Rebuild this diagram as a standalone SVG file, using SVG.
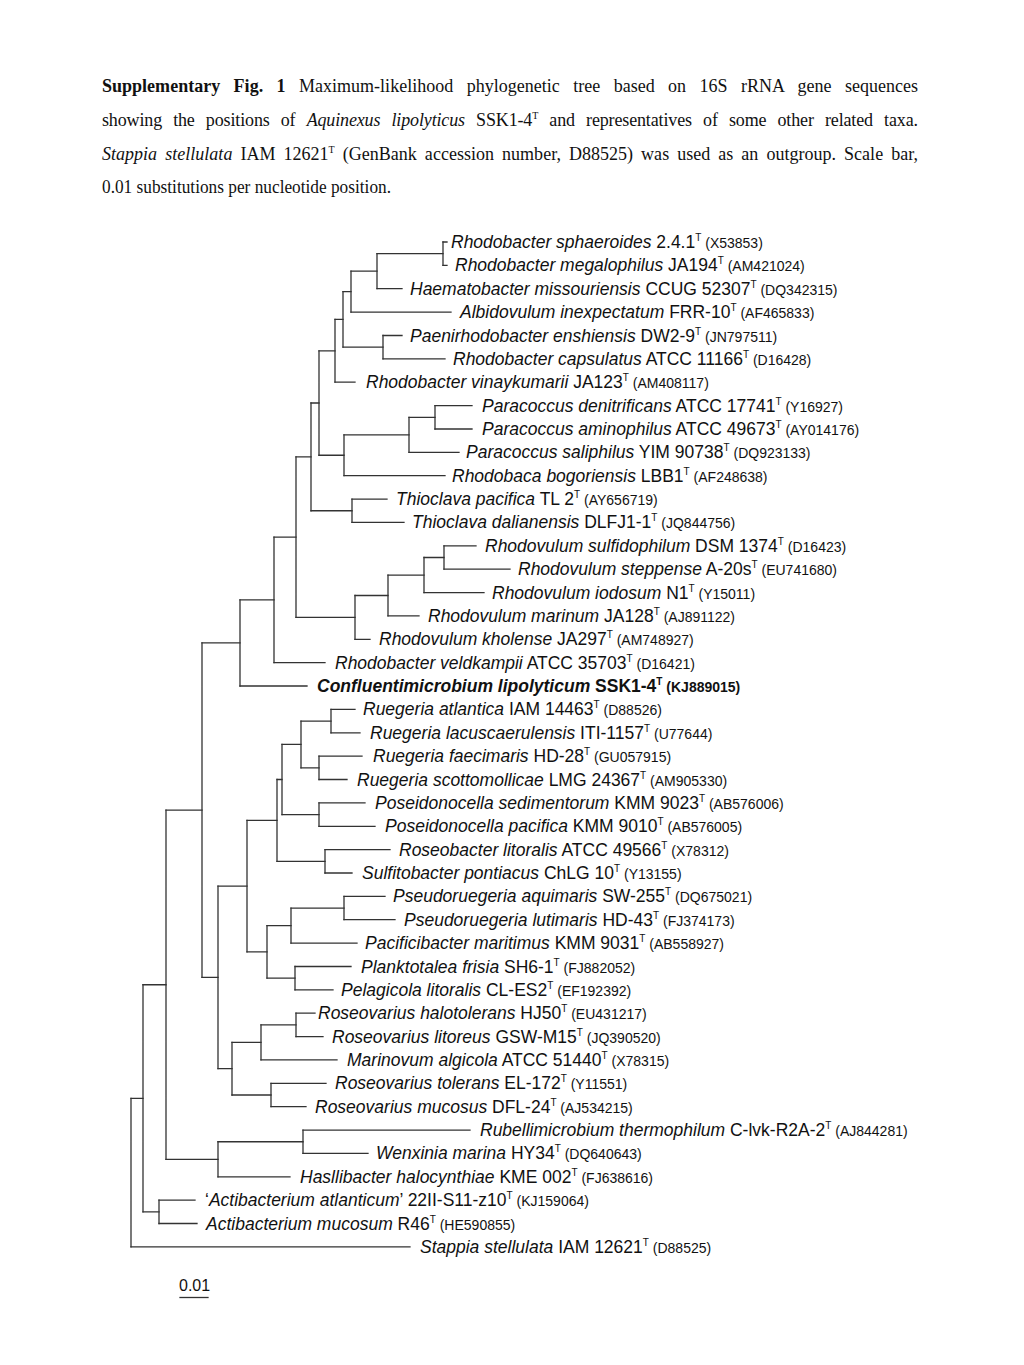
<svg xmlns="http://www.w3.org/2000/svg" width="1024" height="1365" viewBox="0 0 1024 1365">
<style>
.bg{fill:#fff}
.b{stroke:#333;stroke-width:1.3;fill:none;stroke-linecap:square}
.cap{font-family:"Liberation Serif","Times New Roman",serif;font-size:18px;fill:#111}
.lab{font-family:"Liberation Sans",Arial,sans-serif;font-size:17.5px;fill:#111}
.i{font-style:italic}
.acc{font-size:14px}
.sup{font-size:10px}
.bold{font-weight:bold}
</style>
<rect class="bg" x="0" y="0" width="1024" height="1365"/>
<g id="caption">
<text class="cap" x="102" y="92" style="word-spacing:8.9px" textLength="816" lengthAdjust="spacing"><tspan class="bold">Supplementary Fig. 1</tspan> Maximum-likelihood phylogenetic tree based on 16S rRNA gene sequences</text>
<text class="cap" x="102" y="126" style="word-spacing:6.8px" textLength="816" lengthAdjust="spacing">showing the positions of <tspan class="i">Aquinexus lipolyticus</tspan> SSK1-4<tspan class="sup" dy="-7">T</tspan><tspan dy="7"> and representatives of some other related taxa.</tspan></text>
<text class="cap" x="102" y="160" style="word-spacing:3.5px" textLength="816" lengthAdjust="spacing"><tspan class="i">Stappia stellulata</tspan> IAM 12621<tspan class="sup" dy="-7">T</tspan><tspan dy="7"> (GenBank accession number, D88525) was used as an outgroup. Scale bar,</tspan></text>
<text class="cap" x="102" y="193" textLength="289" lengthAdjust="spacingAndGlyphs">0.01 substitutions per nucleotide position.</text>
</g>
<g id="connectors">
<path class="b" d="M443 242V265.4 M377 253.7V288.7 M351 271.2V312.1 M383 335.5V358.9 M343 291.65V347.2 M335 319.4V382.2 M435 405.6V429 M409 417.3V452.3 M344 434.8V475.7 M319 350.8V455.25 M352 499.1V522.4 M311 403V510.75 M444 545.8V569.2 M424 557.5V592.6 M388 575.05V615.9 M355 595.5V639.3 M296 456.9V617.4 M274 537.15V662.7 M240 599.9V686 M331 709.4V732.8 M319 756.1V779.5 M301 721.1V767.8 M319 802.9V826.3 M282 744.45V814.6 M325 849.6V873 M277 779.5V861.3 M344 896.4V919.7 M291 908.05V943.1 M295 966.5V989.8 M267 925.6V978.15 M247 820.4V951.9 M296 1013.2V1036.6 M261 1024.9V1059.9 M271 1083.3V1106.7 M232 1042.4V1095 M218 886.15V1068.7 M202 642.95V977.4 M303 1130.1V1153.4 M218 1141.75V1176.8 M166 810.2V1159.3 M159 1200.2V1223.5 M143 984.75V1211.85 M131 1098.3V1246.9"/>
<path class="b" d="M377 253.7H443 M351 271.2H377 M343 291.65H351 M343 347.2H383 M335 319.4H343 M319 350.8H335 M409 417.3H435 M344 434.8H409 M319 455.25H344 M311 403H319 M311 510.75H352 M296 456.9H311 M424 557.5H444 M388 575.05H424 M355 595.5H388 M296 617.4H355 M274 537.15H296 M240 599.9H274 M202 642.95H240 M301 721.1H331 M301 767.8H319 M282 744.45H301 M282 814.6H319 M277 779.5H282 M277 861.3H325 M247 820.4H277 M291 908.05H344 M267 925.6H291 M267 978.15H295 M247 951.9H267 M218 886.15H247 M261 1024.9H296 M232 1042.4H261 M232 1095H271 M218 1068.7H232 M202 977.4H218 M166 810.2H202 M218 1141.75H303 M166 1159.3H218 M143 984.75H166 M143 1211.85H159 M131 1098.3H143"/>
<path class="b" d="M443 242H447 M443 265.4H447 M377 288.7H402 M351 312.1H451 M383 335.5H402 M383 358.9H445 M335 382.2H355 M435 405.6H472 M435 429H472 M409 452.3H459 M344 475.7H445 M352 499.1H387 M352 522.4H404 M444 545.8H476 M444 569.2H510 M424 592.6H484 M388 615.9H419 M355 639.3H370 M274 662.7H325 M240 686H307 M331 709.4H355 M331 732.8H360 M319 756.1H362 M319 779.5H347 M319 802.9H365 M319 826.3H375 M325 849.6H390 M325 873H352 M344 896.4H385 M344 919.7H395 M291 943.1H357 M295 966.5H351 M295 989.8H333 M296 1013.2H315 M296 1036.6H323 M261 1059.9H337 M271 1083.3H326 M271 1106.7H306 M303 1130.1H470 M303 1153.4H368 M218 1176.8H290 M159 1200.2H195 M159 1223.5H197 M131 1246.9H410"/>
</g>
<g id="leaf-1"><text class="lab" x="451" y="248"><tspan class="i">Rhodobacter sphaeroides</tspan> 2.4.1<tspan class="sup" dy="-7">T</tspan><tspan class="acc" dy="7"> (X53853)</tspan></text></g>
<g id="leaf-2"><text class="lab" x="455" y="271.4"><tspan class="i">Rhodobacter megalophilus</tspan> JA194<tspan class="sup" dy="-7">T</tspan><tspan class="acc" dy="7"> (AM421024)</tspan></text></g>
<g id="leaf-3"><text class="lab" x="410" y="294.7"><tspan class="i">Haematobacter missouriensis</tspan> CCUG 52307<tspan class="sup" dy="-7">T</tspan><tspan class="acc" dy="7"> (DQ342315)</tspan></text></g>
<g id="leaf-4"><text class="lab" x="460" y="318.1"><tspan class="i">Albidovulum inexpectatum</tspan> FRR-10<tspan class="sup" dy="-7">T</tspan><tspan class="acc" dy="7"> (AF465833)</tspan></text></g>
<g id="leaf-5"><text class="lab" x="410" y="341.5"><tspan class="i">Paenirhodobacter enshiensis</tspan> DW2-9<tspan class="sup" dy="-7">T</tspan><tspan class="acc" dy="7"> (JN797511)</tspan></text></g>
<g id="leaf-6"><text class="lab" x="453" y="364.9"><tspan class="i">Rhodobacter capsulatus</tspan> ATCC 11166<tspan class="sup" dy="-7">T</tspan><tspan class="acc" dy="7"> (D16428)</tspan></text></g>
<g id="leaf-7"><text class="lab" x="366" y="388.2"><tspan class="i">Rhodobacter vinaykumarii</tspan> JA123<tspan class="sup" dy="-7">T</tspan><tspan class="acc" dy="7"> (AM408117)</tspan></text></g>
<g id="leaf-8"><text class="lab" x="482" y="411.6"><tspan class="i">Paracoccus denitrificans</tspan> ATCC 17741<tspan class="sup" dy="-7">T</tspan><tspan class="acc" dy="7"> (Y16927)</tspan></text></g>
<g id="leaf-9"><text class="lab" x="482" y="435"><tspan class="i">Paracoccus aminophilus</tspan> ATCC 49673<tspan class="sup" dy="-7">T</tspan><tspan class="acc" dy="7"> (AY014176)</tspan></text></g>
<g id="leaf-10"><text class="lab" x="466" y="458.3"><tspan class="i">Paracoccus saliphilus</tspan> YIM 90738<tspan class="sup" dy="-7">T</tspan><tspan class="acc" dy="7"> (DQ923133)</tspan></text></g>
<g id="leaf-11"><text class="lab" x="452" y="481.7"><tspan class="i">Rhodobaca bogoriensis</tspan> LBB1<tspan class="sup" dy="-7">T</tspan><tspan class="acc" dy="7"> (AF248638)</tspan></text></g>
<g id="leaf-12"><text class="lab" x="396" y="505.1"><tspan class="i">Thioclava pacifica</tspan> TL 2<tspan class="sup" dy="-7">T</tspan><tspan class="acc" dy="7"> (AY656719)</tspan></text></g>
<g id="leaf-13"><text class="lab" x="412" y="528.4"><tspan class="i">Thioclava dalianensis</tspan> DLFJ1-1<tspan class="sup" dy="-7">T</tspan><tspan class="acc" dy="7"> (JQ844756)</tspan></text></g>
<g id="leaf-14"><text class="lab" x="485" y="551.8"><tspan class="i">Rhodovulum sulfidophilum</tspan> DSM 1374<tspan class="sup" dy="-7">T</tspan><tspan class="acc" dy="7"> (D16423)</tspan></text></g>
<g id="leaf-15"><text class="lab" x="518" y="575.2"><tspan class="i">Rhodovulum steppense</tspan> A-20s<tspan class="sup" dy="-7">T</tspan><tspan class="acc" dy="7"> (EU741680)</tspan></text></g>
<g id="leaf-16"><text class="lab" x="492" y="598.6"><tspan class="i">Rhodovulum iodosum</tspan> N1<tspan class="sup" dy="-7">T</tspan><tspan class="acc" dy="7"> (Y15011)</tspan></text></g>
<g id="leaf-17"><text class="lab" x="428" y="621.9"><tspan class="i">Rhodovulum marinum</tspan> JA128<tspan class="sup" dy="-7">T</tspan><tspan class="acc" dy="7"> (AJ891122)</tspan></text></g>
<g id="leaf-18"><text class="lab" x="379" y="645.3"><tspan class="i">Rhodovulum kholense</tspan> JA297<tspan class="sup" dy="-7">T</tspan><tspan class="acc" dy="7"> (AM748927)</tspan></text></g>
<g id="leaf-19"><text class="lab" x="335" y="668.7"><tspan class="i">Rhodobacter veldkampii</tspan> ATCC 35703<tspan class="sup" dy="-7">T</tspan><tspan class="acc" dy="7"> (D16421)</tspan></text></g>
<g id="leaf-20"><text class="lab bold" x="317" y="692"><tspan class="i">Confluentimicrobium lipolyticum</tspan> SSK1-4<tspan class="sup" dy="-7">T</tspan><tspan class="acc" dy="7"> (KJ889015)</tspan></text></g>
<g id="leaf-21"><text class="lab" x="363" y="715.4"><tspan class="i">Ruegeria atlantica</tspan> IAM 14463<tspan class="sup" dy="-7">T</tspan><tspan class="acc" dy="7"> (D88526)</tspan></text></g>
<g id="leaf-22"><text class="lab" x="370" y="738.8"><tspan class="i">Ruegeria lacuscaerulensis</tspan> ITI-1157<tspan class="sup" dy="-7">T</tspan><tspan class="acc" dy="7"> (U77644)</tspan></text></g>
<g id="leaf-23"><text class="lab" x="373" y="762.1"><tspan class="i">Ruegeria faecimaris</tspan> HD-28<tspan class="sup" dy="-7">T</tspan><tspan class="acc" dy="7"> (GU057915)</tspan></text></g>
<g id="leaf-24"><text class="lab" x="357" y="785.5"><tspan class="i">Ruegeria scottomollicae</tspan> LMG 24367<tspan class="sup" dy="-7">T</tspan><tspan class="acc" dy="7"> (AM905330)</tspan></text></g>
<g id="leaf-25"><text class="lab" x="375" y="808.9"><tspan class="i">Poseidonocella sedimentorum</tspan> KMM 9023<tspan class="sup" dy="-7">T</tspan><tspan class="acc" dy="7"> (AB576006)</tspan></text></g>
<g id="leaf-26"><text class="lab" x="385" y="832.3"><tspan class="i">Poseidonocella pacifica</tspan> KMM 9010<tspan class="sup" dy="-7">T</tspan><tspan class="acc" dy="7"> (AB576005)</tspan></text></g>
<g id="leaf-27"><text class="lab" x="399" y="855.6"><tspan class="i">Roseobacter litoralis</tspan> ATCC 49566<tspan class="sup" dy="-7">T</tspan><tspan class="acc" dy="7"> (X78312)</tspan></text></g>
<g id="leaf-28"><text class="lab" x="362" y="879"><tspan class="i">Sulfitobacter pontiacus</tspan> ChLG 10<tspan class="sup" dy="-7">T</tspan><tspan class="acc" dy="7"> (Y13155)</tspan></text></g>
<g id="leaf-29"><text class="lab" x="393" y="902.4"><tspan class="i">Pseudoruegeria aquimaris</tspan> SW-255<tspan class="sup" dy="-7">T</tspan><tspan class="acc" dy="7"> (DQ675021)</tspan></text></g>
<g id="leaf-30"><text class="lab" x="404" y="925.7"><tspan class="i">Pseudoruegeria lutimaris</tspan> HD-43<tspan class="sup" dy="-7">T</tspan><tspan class="acc" dy="7"> (FJ374173)</tspan></text></g>
<g id="leaf-31"><text class="lab" x="365" y="949.1"><tspan class="i">Pacificibacter maritimus</tspan> KMM 9031<tspan class="sup" dy="-7">T</tspan><tspan class="acc" dy="7"> (AB558927)</tspan></text></g>
<g id="leaf-32"><text class="lab" x="361" y="972.5"><tspan class="i">Planktotalea frisia</tspan> SH6-1<tspan class="sup" dy="-7">T</tspan><tspan class="acc" dy="7"> (FJ882052)</tspan></text></g>
<g id="leaf-33"><text class="lab" x="341" y="995.8"><tspan class="i">Pelagicola litoralis</tspan> CL-ES2<tspan class="sup" dy="-7">T</tspan><tspan class="acc" dy="7"> (EF192392)</tspan></text></g>
<g id="leaf-34"><text class="lab" x="318" y="1019.2"><tspan class="i">Roseovarius halotolerans</tspan> HJ50<tspan class="sup" dy="-7">T</tspan><tspan class="acc" dy="7"> (EU431217)</tspan></text></g>
<g id="leaf-35"><text class="lab" x="332" y="1042.6"><tspan class="i">Roseovarius litoreus</tspan> GSW-M15<tspan class="sup" dy="-7">T</tspan><tspan class="acc" dy="7"> (JQ390520)</tspan></text></g>
<g id="leaf-36"><text class="lab" x="347" y="1065.9"><tspan class="i">Marinovum algicola</tspan> ATCC 51440<tspan class="sup" dy="-7">T</tspan><tspan class="acc" dy="7"> (X78315)</tspan></text></g>
<g id="leaf-37"><text class="lab" x="335" y="1089.3"><tspan class="i">Roseovarius tolerans</tspan> EL-172<tspan class="sup" dy="-7">T</tspan><tspan class="acc" dy="7"> (Y11551)</tspan></text></g>
<g id="leaf-38"><text class="lab" x="315" y="1112.7"><tspan class="i">Roseovarius mucosus</tspan> DFL-24<tspan class="sup" dy="-7">T</tspan><tspan class="acc" dy="7"> (AJ534215)</tspan></text></g>
<g id="leaf-39"><text class="lab" x="480" y="1136.1"><tspan class="i">Rubellimicrobium thermophilum</tspan> C-lvk-R2A-2<tspan class="sup" dy="-7">T</tspan><tspan class="acc" dy="7"> (AJ844281)</tspan></text></g>
<g id="leaf-40"><text class="lab" x="376" y="1159.4"><tspan class="i">Wenxinia marina</tspan> HY34<tspan class="sup" dy="-7">T</tspan><tspan class="acc" dy="7"> (DQ640643)</tspan></text></g>
<g id="leaf-41"><text class="lab" x="300" y="1182.8"><tspan class="i">Hasllibacter halocynthiae</tspan> KME 002<tspan class="sup" dy="-7">T</tspan><tspan class="acc" dy="7"> (FJ638616)</tspan></text></g>
<g id="leaf-42"><text class="lab" x="205" y="1206.2">‘<tspan class="i">Actibacterium atlanticum</tspan>’ 22II-S11-z10<tspan class="sup" dy="-7">T</tspan><tspan class="acc" dy="7"> (KJ159064)</tspan></text></g>
<g id="leaf-43"><text class="lab" x="206" y="1229.5"><tspan class="i">Actibacterium mucosum</tspan> R46<tspan class="sup" dy="-7">T</tspan><tspan class="acc" dy="7"> (HE590855)</tspan></text></g>
<g id="leaf-44"><text class="lab" x="420" y="1252.9"><tspan class="i">Stappia stellulata</tspan> IAM 12621<tspan class="sup" dy="-7">T</tspan><tspan class="acc" dy="7"> (D88525)</tspan></text></g>
<g id="scale-bar">
<text class="lab" x="179" y="1291" style="font-size:16px">0.01</text>
<path class="b" d="M180 1297.5H208"/>
</g>
</svg>
